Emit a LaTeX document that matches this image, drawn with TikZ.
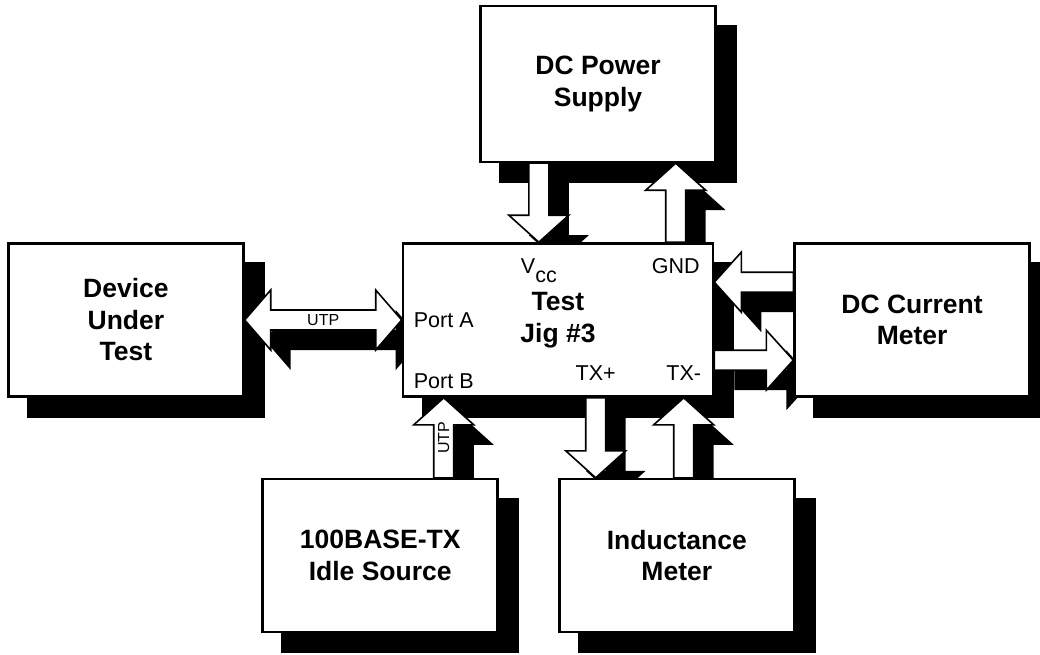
\documentclass[tikz,border=0pt]{standalone}
\usepackage{fontspec}
\setmainfont{Liberation Sans}
\usetikzlibrary{calc, positioning, shadows}

\pgfdeclarelayer{back}
\pgfdeclarelayer{mid}
\pgfsetlayers{back,mid,main}

\newcommand\fatarrow[2]{%
  \coordinate (fs) at (#1);
  \coordinate (ft) at (#2);
  \coordinate (fh) at ($(ft)!27pt!(fs)$);
  \draw[fat] ($(fs)!10pt!90:(ft)$) -- ($(fh)!10pt!-90:(fs)$)
    -- ($(fh)!30pt!-90:(fs)$) -- (ft) -- ($(fh)!30pt!90:(fs)$)
    -- ($(fh)!10pt!90:(fs)$) -- ($(fs)!10pt!-90:(ft)$) -- cycle;
}
\newcommand\fatboth[2]{%
  \coordinate (fs) at (#1);
  \coordinate (ft) at (#2);
  \coordinate (fg) at ($(fs)!26pt!(ft)$);
  \coordinate (fh) at ($(ft)!26pt!(fs)$);
  \draw[fat] (fs) -- ($(fg)!30pt!90:(ft)$) -- ($(fg)!10pt!90:(ft)$)
    -- ($(fh)!10pt!-90:(fs)$) -- ($(fh)!30pt!-90:(fs)$) -- (ft)
    -- ($(fh)!30pt!90:(fs)$) -- ($(fh)!10pt!90:(fs)$)
    -- ($(fg)!10pt!-90:(ft)$) -- ($(fg)!30pt!-90:(ft)$) -- cycle;
}

\begin{document}
\begin{tikzpicture}[
  x=1pt, y=-1pt,
  node distance=79pt and 79pt,
  box/.style={draw, fill=white, line width=2.6pt, minimum width=235pt,
              minimum height=153pt, align=center,
              font=\bfseries\fontsize{26.5}{31.5}\selectfont},
  lbl/.style={inner sep=0pt, font=\fontsize{21.5}{25}\selectfont},
  tag/.style={inner sep=0pt, font=\fontsize{16}{19}\selectfont},
  fat/.style={draw, fill=white, line width=1.6pt, miter limit=20,
              drop shadow={shadow xshift=20pt, shadow yshift=-20pt,
                           opacity=1, fill=black}}
]
\useasboundingbox (0,0) rectangle (1040,655);

\node[box, minimum width=310pt] (jig) at (558,320) {Test\\Jig \#3};
\node[box, above=of jig, xshift=40pt, minimum height=156pt] (psu) {DC Power\\Supply};
\node[box, left=157pt of jig] (dut) {Device\\Under\\Test};
\node[box, right=of jig] (meter) {DC Current\\Meter};
\node[box, below=80pt of jig.south, anchor=north west] (ind) {Inductance\\Meter};
\node[box, left=59pt of ind] (idle) {100BASE-TX\\Idle Source};

\node[lbl, anchor=base west] (vcc) at ($(jig.north west)+(119,31)$) {V\raisebox{-9pt}{cc}};
\node[lbl, anchor=base] (gnd) at ($(jig.north west)+(274,31)$) {GND};
\node[lbl, anchor=base west] (porta) at ($(jig.north west)+(12,85)$) {Port A};
\node[lbl, anchor=base west] (portb) at ($(jig.north west)+(12,146)$) {Port B};
\node[lbl, anchor=base] (txp) at ($(jig.north west)+(194,138)$) {TX+};
\node[lbl, anchor=base] (txm) at ($(jig.north west)+(282,138)$) {TX-};

\coordinate (gin) at ($(jig.north east)+(0,40)$);
\coordinate (gout) at ($(jig.north east)+(0,118)$);

% drop shadows of the boxes
\begin{pgfonlayer}{back}
\foreach \b in {psu,dut,jig,meter,idle,ind}
  \fill ($(\b.south west)+(20,20)$) rectangle ($(\b.north east)+(20,20)$);
\end{pgfonlayer}

\begin{pgfonlayer}{mid}
\fatarrow{vcc |- psu.south}{vcc |- jig.north}
\fatarrow{gnd |- jig.north}{gnd |- psu.south}
\fatboth{dut.east}{jig.west}
\fatarrow{meter.west |- gin}{gin}
\fatarrow{gout}{meter.west |- gout}
\fatarrow{portb |- idle.north}{portb |- jig.south}
\fatarrow{txp |- jig.south}{txp |- ind.north}
\fatarrow{txm |- ind.north}{txm |- jig.south}
\end{pgfonlayer}

\node[tag] (utpa) at ($(dut.east)!.5!(jig.west)$) {UTP};
\node[tag, rotate=90] (utpb) at ($(portb |- jig.south)!.5!(portb |- idle.north)$) {UTP};
\end{tikzpicture}
\end{document}
